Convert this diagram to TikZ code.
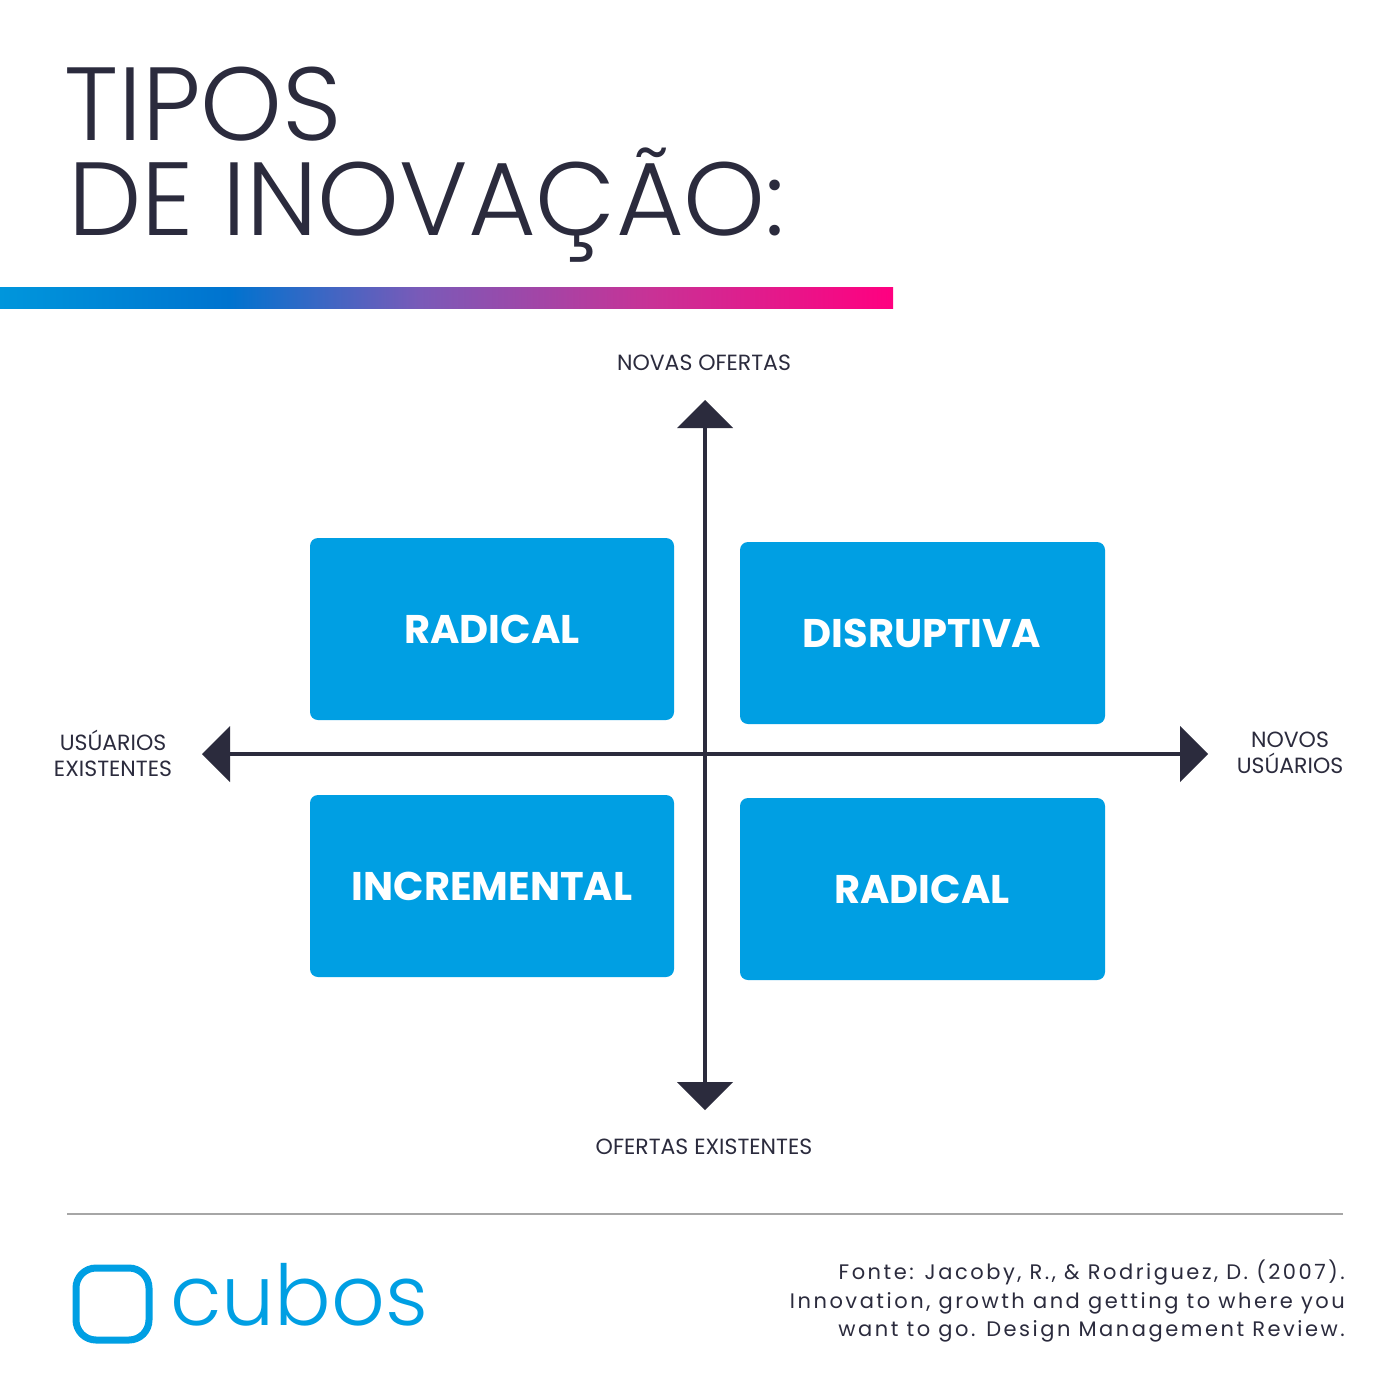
\documentclass[tikz,border=0pt]{standalone}
\usepackage{fontspec}
\setmainfont{Poppins}
\newfontfamily\lightf{Poppins Light}
\newfontfamily\spacedf[LetterSpace=12]{Poppins}
\begin{document}
\begin{tikzpicture}[x=1pt,y=-1pt,
  box/.style={fill=boxblue,rounded corners=8pt},
  boxtxt/.style={text=white,font=\fontsize{40}{42}\selectfont\bfseries},
  lab/.style={text=ink,font=\fontsize{22}{26}\selectfont,align=center}]
\definecolor{ink}{HTML}{2B2B3D}
\definecolor{boxblue}{HTML}{009FE3}
\definecolor{g1}{HTML}{0096DC}\definecolor{g2}{HTML}{0073CF}\definecolor{g3}{HTML}{7A5AB8}
\definecolor{g4}{HTML}{C83296}\definecolor{g5}{HTML}{FF0080}
\useasboundingbox[fill=white] (0,0) rectangle (1400,1400);
\node[anchor=base west,inner sep=0,text=ink,font=\lightf\fontsize{104}{104}\selectfont] (t1) at (64,140) {TIPOS};
\node[anchor=base west,inner sep=0,text=ink,font=\lightf\fontsize{104}{104}\selectfont] (t2) at (68,235) {DE INOVAÇÃO:};
\shade[left color=g1,right color=g2] (0,287) rectangle (230,308);
\shade[left color=g2,right color=g3] (230,287) rectangle (420,308);
\shade[left color=g3,right color=g4] (420,287) rectangle (650,308);
\shade[left color=g4,right color=g5] (650,287) rectangle (893,308);
\coordinate (vt) at (705,400); \coordinate (vb) at (705,1110);
\coordinate (hl) at (202,754); \coordinate (hr) at (1208,754);
\draw[ink,line width=4pt] (705,420) -- (705,1090);
\draw[ink,line width=4pt] (222,754) -- (1188,754);
\fill[ink] (vt) -- ++(28,28) -- ++(-56,0) -- cycle;
\fill[ink] (vb) -- ++(28,-28) -- ++(-56,0) -- cycle;
\fill[ink] (hl) -- ++(28,-28) -- ++(0,56) -- cycle;
\fill[ink] (hr) -- ++(-28,-28) -- ++(0,56) -- cycle;
\fill[box] (310,538) rectangle (674,720);
\fill[box] (740,542) rectangle (1105,724);
\fill[box] (310,795) rectangle (674,977);
\fill[box] (740,798) rectangle (1105,980);
\node[boxtxt] (b1) at (492,629) {RADICAL};
\node[boxtxt] (b2) at (922,633) {DISRUPTIVA};
\node[boxtxt] (b3) at (492,886) {INCREMENTAL};
\node[boxtxt] (b4) at (922,889) {RADICAL};
\node[lab] (l1) at (704,363) {NOVAS OFERTAS};
\node[lab] (l2) at (704,1147) {OFERTAS EXISTENTES};
\node[lab] (l3) at (113,753) {USÚARIOS\\EXISTENTES};
\node[lab] (l4) at (1290,753) {NOVOS\\USÚARIOS};
\draw[gray!70,line width=1.2pt] (67,1214) -- (1343,1214);
\draw[boxblue,line width=7pt,rounded corners=20pt] (76,1268) rectangle (149,1340);
\node[anchor=base west,inner sep=0,text=boxblue,font=\lightf\fontsize{84}{84}\selectfont] (cb) at (170,1325) {cubos};
\node[anchor=north east,inner sep=0,align=right,text=ink,font=\spacedf\fontsize{21}{28.5}\selectfont] (src) at (1345,1260) {Fonte: Jacoby, R., \& Rodriguez, D. (2007).\\Innovation, growth and getting to where you\\want to go. Design Management Review.};
\end{tikzpicture}
\end{document}
